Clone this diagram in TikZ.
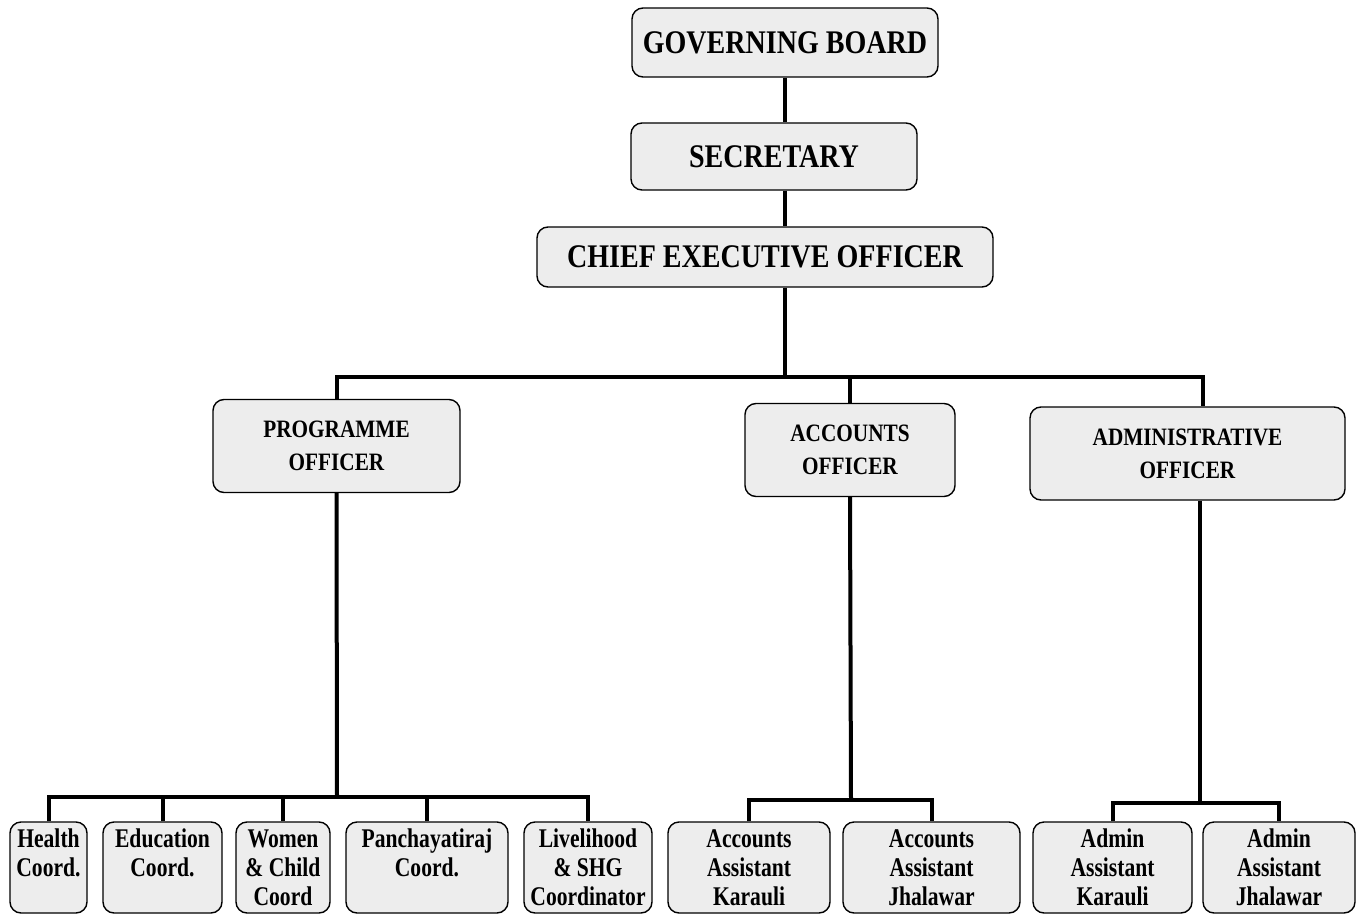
\documentclass[tikz,border=0pt]{standalone}
\usepackage{fontspec}
\setmainfont[FakeStretch=0.85]{Liberation Serif}
\newfontfamily\lowfont[FakeStretch=0.8]{Liberation Serif}
\tikzset{
  box/.style={draw=black, line width=1.4pt, fill=black!7, rounded corners=11pt,
    align=center, inner sep=2pt, font=\bfseries},
  topbox/.style={box, font=\bfseries\fontsize{33}{38}\selectfont},
  midbox/.style={box, minimum height=93pt, font=\bfseries\fontsize{25}{33}\selectfont},
  lowbox/.style={box, minimum height=91pt, font=\lowfont\bfseries\fontsize{27}{29}\selectfont},
  link/.style={line width=4pt}
}
\begin{document}
\begin{tikzpicture}[x=1pt,y=-1pt]
\useasboundingbox (0,0) rectangle (1360,915);

% top of the chart
\node[topbox, minimum width=306pt, minimum height=69pt] (gb) at (785,42.5) {GOVERNING BOARD};
\node[topbox, minimum width=286pt, minimum height=67pt] (sec) at (774,156.5) {SECRETARY};
\node[topbox, minimum width=456pt, minimum height=60pt] (ceo) at (765,257) {CHIEF EXECUTIVE OFFICER};

% officers
\node[midbox, minimum width=247pt] (po) at (336.5,446) {PROGRAMME\\OFFICER};
\node[midbox, minimum width=210pt] (ao) at (850,450) {ACCOUNTS\\OFFICER};
\node[midbox, minimum width=315pt] (adm) at (1187.5,453.5) {ADMINISTRATIVE\\OFFICER};

% staff
\node[lowbox, minimum width=77pt] (health) at (48.5,867.5) {Health\\Coord.\\~};
\node[lowbox, minimum width=119pt] (edu) at (162.5,867.5) {Education\\Coord.\\~};
\node[lowbox, minimum width=94pt] (women) at (283,867.5) {Women\\\& Child\\Coord};
\node[lowbox, minimum width=162pt] (panch) at (427,867.5) {Panchayatiraj\\Coord.\\~};
\node[lowbox, minimum width=128pt] (live) at (588,867.5) {Livelihood\\\& SHG\\Coordinator};
\node[lowbox, minimum width=162pt] (accK) at (749,867.5) {Accounts\\Assistant\\Karauli};
\node[lowbox, minimum width=177pt] (accJ) at (931.5,867.5) {Accounts\\Assistant\\Jhalawar};
\node[lowbox, minimum width=159pt] (admK) at (1112.5,867.5) {Admin\\Assistant\\Karauli};
\node[lowbox, minimum width=152pt] (admJ) at (1279,867.5) {Admin\\Assistant\\Jhalawar};

% branch points
\coordinate (tbar) at (785,377);
\coordinate (admtop) at (1203,377);
\coordinate (pbar) at (337,797);
\coordinate (abar) at (851,800);
\coordinate (admbar) at (1200,803);

% spine
\draw[link] (gb.south) -- (sec.north -| gb.south);
\draw[link] (sec.south -| gb.south) -- (ceo.north -| gb.south);
\draw[link] (ceo.south -| gb.south) -- (tbar);
\draw[link] (po.north) |- (tbar) -- (admtop) -- (admtop |- adm.north);
\draw[link] (ao.north) -- (ao.north |- tbar);

% programme staff
\draw[link] (po.south) -- (pbar);
\draw[link] (health.north) |- (pbar) -| (live.north);
\foreach \n in {edu,women,panch}
  \draw[link] (\n.north) -- (\n.north |- pbar);

% accounts staff
\draw[link] (ao.south) -- (abar);
\draw[link] (accK.north) |- (abar) -| (accJ.north);

% admin staff
\draw[link] (admbar |- adm.south) -- (admbar);
\draw[link] (admK.north) |- (admbar) -| (admJ.north);
\end{tikzpicture}
\end{document}
